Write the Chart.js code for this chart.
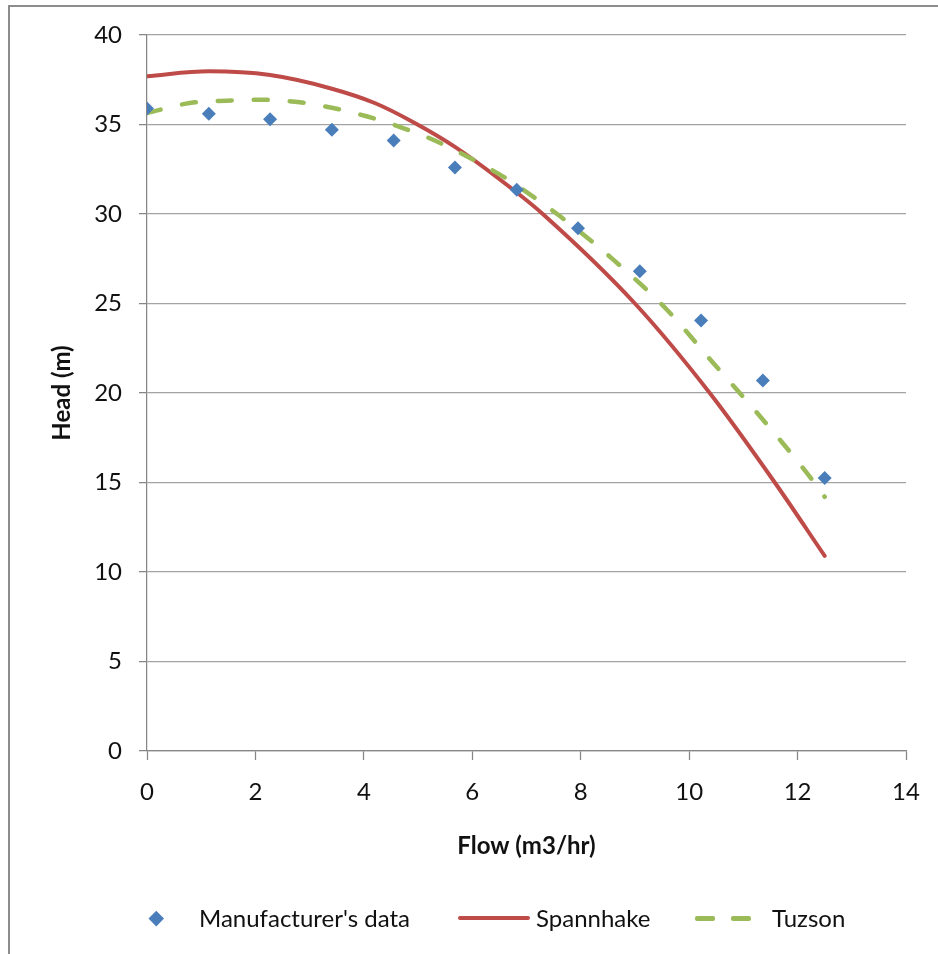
<!DOCTYPE html>
<html>
<head>
<meta charset="utf-8">
<script src="https://cdn.jsdelivr.net/npm/chart.js@4/dist/chart.umd.min.js"></script>
<style>
  html, body { margin: 0; padding: 0; background: #fff; }
  body { width: 938px; height: 954px; position: relative; overflow: hidden; font-family: Lato, "Open Sans", sans-serif; }
  #frame { position: absolute; left: 8px; top: 5px; width: 1000px; height: 1000px; border: 2px solid #8c8c8c; box-sizing: border-box; }
  #c { position: absolute; left: 0; top: 0; }
  .lg { position: absolute; font-size: 24px; line-height: 30px; color: #111; white-space: nowrap; }
  .sym { position: absolute; }
</style>
</head>
<body>
<div id="frame"></div>
<canvas id="c" width="938" height="954"></canvas>

<div class="sym" style="left:151px; top:913px; width:10.5px; height:10.5px; background:#4a7ebb; transform:rotate(45deg);"></div>
<div class="lg" style="left:199px; top:903px;">Manufacturer's data</div>
<div class="sym" style="left:458px; top:916px; width:72px; height:4px; border-radius:2px; background:#be4b48;"></div>
<div class="lg" style="left:536px; top:903px;">Spannhake</div>
<div class="sym" style="left:695px; top:916px; width:20px; height:4.5px; border-radius:2px; background:#9bbb59;"></div>
<div class="sym" style="left:731px; top:916px; width:20px; height:4.5px; border-radius:2px; background:#9bbb59;"></div>
<div class="lg" style="left:772px; top:903px;">Tuzson</div>

<script>
// Manufacturer's data (flow m3/hr, head m)
const flowManufacturer = [0, 1.14, 2.27, 3.41, 4.55, 5.68, 6.82, 7.95, 9.09, 10.22, 11.36, 12.5];
const headManufacturer = [35.9, 35.6, 35.3, 34.7, 34.1, 32.6, 31.35, 29.2, 26.8, 24.05, 20.7, 15.25];

// Spannhake model curve
const flowSpannhake = [0, 1.14, 2.27, 3.41, 4.2, 4.93, 5.68, 6.82, 7.3, 9.0, 10.38, 11.58, 12.5];
const headSpannhake = [37.7, 37.97, 37.76, 37.0, 36.2, 35.1, 33.75, 31.2, 30.0, 25.0, 20.0, 15.0, 10.9];

// Tuzson model curve
const flowTuzson = [0, 0.79, 1.47, 2.14, 2.82, 3.43, 4.05, 4.67, 5.34, 6.51, 6.82, 7.62, 8.6, 9.59, 10.44, 11.31, 12.17, 12.5];
const headTuzson = [35.64, 36.2, 36.33, 36.38, 36.24, 35.92, 35.46, 34.86, 34.06, 32.2, 31.6, 29.87, 27.45, 24.65, 21.69, 18.69, 15.54, 14.2];

// Axis ticks
const flowTicks = [0, 2, 4, 6, 8, 10, 12, 14];
const headTicks = [0, 5, 10, 15, 20, 25, 30, 35, 40];

const xTitle = 'Flow (m3/hr)';
const yTitle = 'Head (m)';

const toXY = (xs, ys) => xs.map((x, i) => ({ x: x, y: ys[i] }));

const FONT = 'Lato, "Open Sans", sans-serif';
const axisColor = '#868686';
const gridColor = '#a3a3a3';

new Chart(document.getElementById('c'), {
  type: 'scatter',
  data: {
    datasets: [
      {
        label: "Manufacturer's data",
        data: toXY(flowManufacturer, headManufacturer),
        showLine: false,
        pointStyle: 'rectRot',
        pointRadius: 7,
        pointBackgroundColor: '#4a7ebb',
        pointBorderColor: '#4a7ebb',
        pointBorderWidth: 0,
        order: 0
      },
      {
        label: 'Tuzson',
        data: toXY(flowTuzson, headTuzson),
        showLine: true,
        pointRadius: 0,
        borderColor: '#9bbb59',
        borderWidth: 4.5,
        borderDash: [14, 22],
        borderCapStyle: 'round',
        cubicInterpolationMode: 'monotone',
        order: 1
      },
      {
        label: 'Spannhake',
        data: toXY(flowSpannhake, headSpannhake),
        showLine: true,
        pointRadius: 0,
        borderColor: '#be4b48',
        borderWidth: 4,
        borderCapStyle: 'round',
        cubicInterpolationMode: 'monotone',
        order: 2
      }
    ]
  },
  options: {
    responsive: false,
    animation: false,
    devicePixelRatio: 1,
    layout: { padding: { left: 0, top: 35, right: 32, bottom: 73 } },
    plugins: { legend: { display: false }, tooltip: { enabled: false } },
    scales: {
      x: {
        type: 'linear',
        min: 0, max: 14,
        afterBuildTicks: (s) => { s.ticks = flowTicks.map(v => ({ value: v })); },
        afterFit: (s) => { s.height = 130; },
        grid: { drawOnChartArea: false, drawTicks: true, tickLength: 9, tickColor: axisColor, tickWidth: 1.25 },
        border: { display: true, color: axisColor, width: 1.25 },
        ticks: { color: '#111', font: { family: FONT, size: 24 }, padding: 18, maxRotation: 0 },
        title: { display: true, text: xTitle, color: '#111', font: { family: FONT, size: 24, weight: 'bold' }, padding: { top: 0, bottom: 20.6 } }
      },
      y: {
        type: 'linear',
        min: 0, max: 40,
        afterBuildTicks: (s) => { s.ticks = headTicks.map(v => ({ value: v })); },
        afterFit: (s) => { s.width = 147; },
        grid: { color: gridColor, lineWidth: 1.25, drawTicks: true, tickLength: 8, tickColor: axisColor, tickWidth: 1.25 },
        border: { display: true, color: axisColor, width: 1.25 },
        ticks: { color: '#111', font: { family: FONT, size: 24 }, padding: 17 },
        title: { display: true, text: yTitle, color: '#111', font: { family: FONT, size: 24, weight: 'bold' }, padding: { top: 47.6, bottom: 0 } }
      }
    }
  }
});
</script>
</body>
</html>
